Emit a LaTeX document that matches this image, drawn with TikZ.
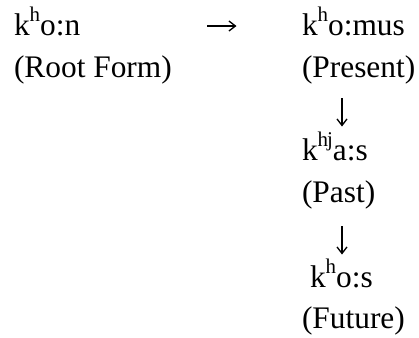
\documentclass[tikz,border=0pt]{standalone}
\usepackage{fontspec}
\setmainfont{Liberation Serif}
\usetikzlibrary{arrows.meta}
\newcommand{\sups}[1]{\raisebox{14bp}{\fontsize{21}{21}\selectfont #1}}
\begin{document}
\begin{tikzpicture}[x=1bp,y=-1bp,
  txt/.style={anchor=base west,inner sep=0pt,outer sep=0pt,font=\fontsize{31.5}{36}\selectfont},
  conn/.style={line width=1.3bp,-{Straight Barb[length=6.5bp,width=10bp,line width=1.3bp]}}]
\useasboundingbox (0,0) rectangle (419,338);
\node[txt] (root) at (14,35) {k\sups{h}o:n};
\node[txt] (rootl) at (14,77) {(Root Form)};
\node[txt] (pres) at (302,35) {k\sups{h}o:mus};
\node[txt] (presl) at (302,77) {(Present)};
\node[txt] (past) at (302,160) {k\sups{h\kern-1bp j}a:s};
\node[txt] (pastl) at (302,202) {(Past)};
\node[txt] (fut) at (310,287) {k\sups{h}o:s};
\node[txt] (futl) at (302,328) {(Future)};
\coordinate (a1s) at (207,26);
\coordinate (a1e) at (236.5,26);
\coordinate (a2s) at (342,98);
\coordinate (a2e) at (342,126.5);
\coordinate (a3s) at (342,226);
\coordinate (a3e) at (342,254.5);
\draw[conn] (a1s) -- (a1e);
\draw[conn] (a2s) -- (a2e);
\draw[conn] (a3s) -- (a3e);
\end{tikzpicture}
\end{document}
